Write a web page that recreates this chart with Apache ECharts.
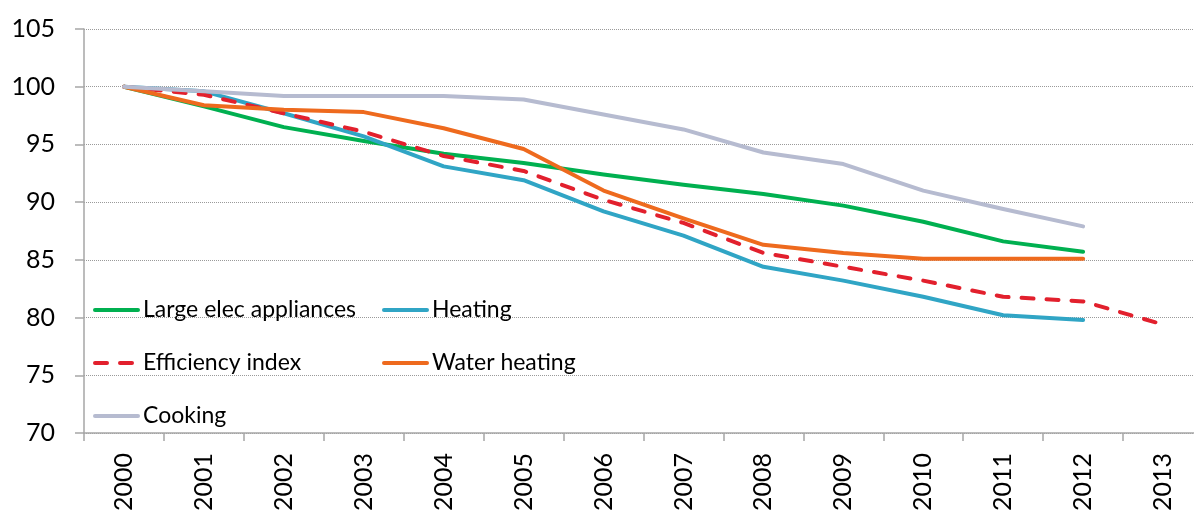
<!DOCTYPE html>
<html>
<head>
<meta charset="utf-8">
<script src="https://cdn.jsdelivr.net/npm/echarts@6/dist/echarts.min.js"></script>
<style>
  html, body { margin: 0; padding: 0; background: #fff; overflow: hidden; }
  #main { width: 1203px; height: 514px; }
</style>
</head>
<body>
<div id="main"></div>
<script>
// index values, 2000 = 100
const years = ['2000', '2001', '2002', '2003', '2004', '2005', '2006', '2007', '2008', '2009', '2010', '2011', '2012', '2013'];
const largeElec = [100, 98.3, 96.5, 95.3, 94.2, 93.4, 92.4, 91.5, 90.7, 89.7, 88.3, 86.6, 85.7];
const heating = [100, 99.6, 97.7, 95.7, 93.1, 91.9, 89.2, 87.1, 84.4, 83.2, 81.8, 80.2, 79.8];
const efficiency = [100, 99.3, 97.7, 96.1, 94.0, 92.7, 90.2, 88.2, 85.6, 84.4, 83.2, 81.8, 81.4, 79.4];
const waterHeating = [100, 98.4, 98.0, 97.8, 96.4, 94.6, 91.0, 88.6, 86.3, 85.6, 85.1, 85.1, 85.1];
const cooking = [100, 99.6, 99.2, 99.2, 99.2, 98.9, 97.6, 96.3, 94.3, 93.3, 91.0, 89.4, 87.9];
const yTicks = { min: 70, max: 105, step: 5 };

const chart = echarts.init(document.getElementById('main'));
const font = 'Lato, "Open Sans", sans-serif';

function line(name, data, color, dashed) {
  return {
    name: name,
    type: 'line',
    data: data,
    symbol: 'none',
    smooth: false,
    lineStyle: {
      color: color,
      width: 4,
      type: dashed ? [12, 13] : 'solid',
      cap: 'round',
      join: 'round'
    },
    itemStyle: { color: color },
    emphasis: { disabled: true }
  };
}

// legend shows only the line sample, the middle symbol is hidden
const legendBase = {
  orient: 'vertical',
  top: 293,
  itemWidth: 43,
  itemHeight: 4,
  itemGap: 29,
  itemStyle: { opacity: 0 },
  lineStyle: { width: 4, cap: 'round' },
  textStyle: { fontFamily: font, fontSize: 23, color: '#000', lineHeight: 24 },
  selectedMode: false
};

const option = {
  animation: false,
  backgroundColor: '#fff',
  grid: { left: 84, right: 0, top: 29, bottom: 80 },
  legend: [
    Object.assign({}, legendBase, {
      left: 88,
      data: ['Large elec appliances', 'Efficiency index', 'Cooking']
    }),
    Object.assign({}, legendBase, {
      left: 377,
      data: ['Heating', 'Water heating']
    })
  ],
  xAxis: {
    type: 'category',
    data: years,
    boundaryGap: true,
    axisLine: { lineStyle: { color: '#a6a6a6', width: 1.5 } },
    axisTick: { show: true, length: 8, interval: 0, lineStyle: { color: '#a6a6a6', width: 1.5 } },
    axisLabel: {
      interval: 0,
      rotate: 90,
      margin: 20,
      fontFamily: font,
      fontSize: 25,
      color: '#000'
    },
    splitLine: { show: false }
  },
  yAxis: {
    type: 'value',
    min: yTicks.min,
    max: yTicks.max,
    interval: yTicks.step,
    axisLine: { show: true, lineStyle: { color: '#a6a6a6', width: 1.5 } },
    axisTick: { show: true, length: 9, lineStyle: { color: '#a6a6a6', width: 1.5 } },
    axisLabel: {
      margin: 29,
      fontFamily: font,
      fontSize: 25,
      color: '#000'
    },
    splitLine: { show: true, lineStyle: { color: '#9a9a9a', type: 'dotted', width: 1 } }
  },
  series: [
    line('Large elec appliances', largeElec, '#00b050', false),
    line('Heating', heating, '#30a5c5', false),
    line('Efficiency index', efficiency, '#e2202d', true),
    line('Water heating', waterHeating, '#ee6a1e', false),
    line('Cooking', cooking, '#b6bbd0', false)
  ]
};

chart.setOption(option);
</script>
</body>
</html>
